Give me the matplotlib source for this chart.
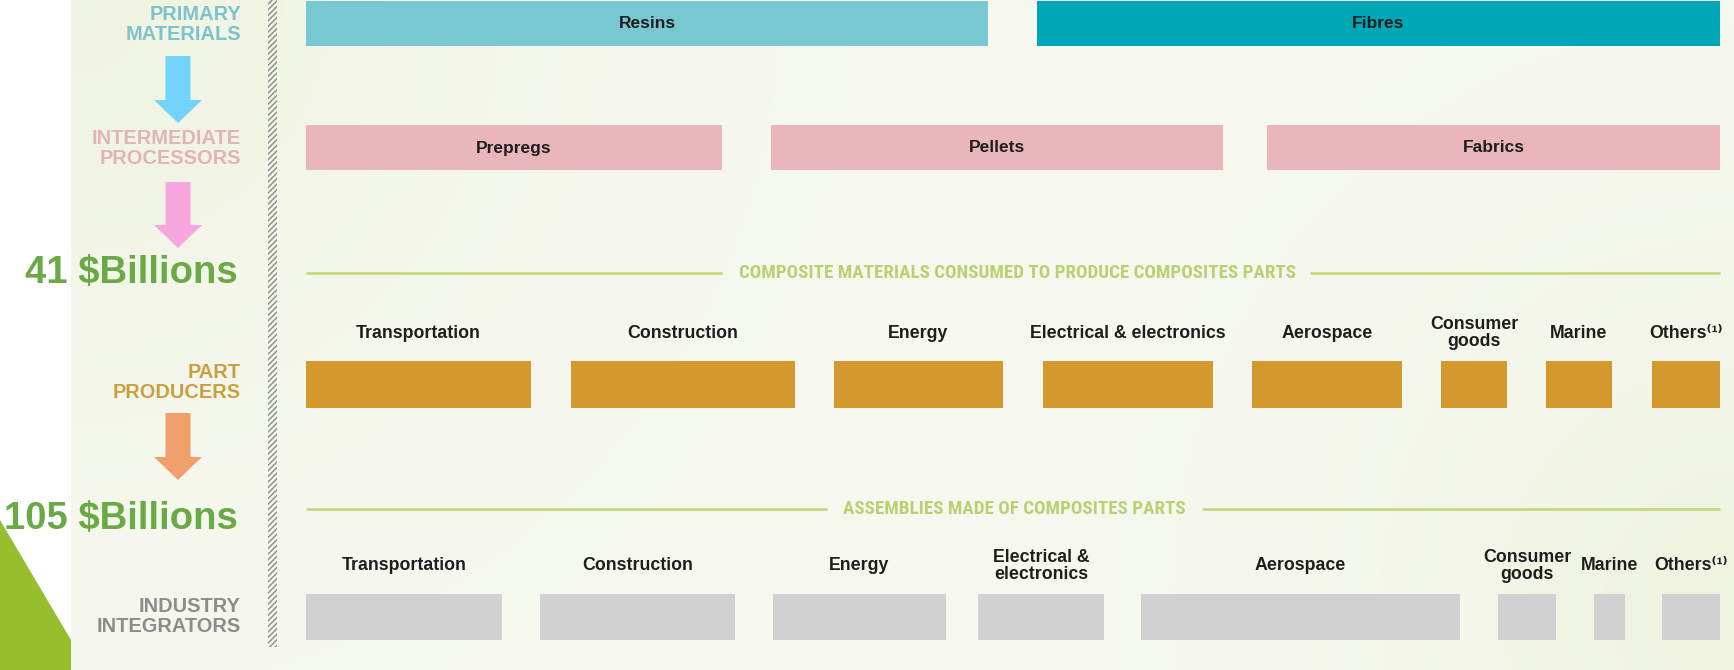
import matplotlib
matplotlib.use('Agg')
import matplotlib.pyplot as plt
import numpy as np
from matplotlib.patches import Rectangle, Polygon
from matplotlib import font_manager

# ---------------- data ----------------
stage_labels = [('PRIMARY', 'MATERIALS'), ('INTERMEDIATE', 'PROCESSORS'),
                ('PART', 'PRODUCERS'), ('INDUSTRY', 'INTEGRATORS')]
value_labels = ['41 $Billions', '105 $Billions']

primary_names = ['Resins', 'Fibres']
primary_start = [306, 1037]
primary_end = [988, 1720]

intermediate_names = ['Prepregs', 'Pellets', 'Fabrics']
intermediate_start = [306, 771, 1267]
intermediate_end = [722, 1223, 1720]

part_names = ['Transportation', 'Construction', 'Energy', 'Electrical & electronics',
              'Aerospace', 'Consumer\ngoods', 'Marine', 'Others⁽¹⁾']
part_start = [306, 571, 834, 1043, 1252, 1441, 1546, 1652]
part_end = [531, 795, 1003, 1213, 1402, 1507, 1612, 1720]

integrator_names = ['Transportation', 'Construction', 'Energy', 'Electrical &\nelectronics',
                    'Aerospace', 'Consumer\ngoods', 'Marine', 'Others⁽¹⁾']
integrator_start = [306, 540, 773, 978, 1141, 1498, 1594, 1662]
integrator_end = [502, 735, 946, 1104, 1460, 1556, 1625, 1720]

heading_1 = 'COMPOSITE MATERIALS CONSUMED TO PRODUCE COMPOSITES PARTS'
heading_2 = 'ASSEMBLIES MADE OF COMPOSITES PARTS'

# ---------------- figure ----------------
W, H = 1734, 670
fig = plt.figure(figsize=(W / 100, H / 100), dpi=100)
ax = fig.add_axes([0, 0, 1, 1])
ax.set_xlim(0, W)
ax.set_ylim(H, 0)
ax.axis('off')
fig.patch.set_facecolor('white')

names = {f.name for f in font_manager.fontManager.ttflist}
SANS = ['Liberation Sans', 'DejaVu Sans']
COND = None
for cand in ['Liberation Sans Narrow', 'DejaVu Sans Condensed', 'Roboto Condensed',
             'Open Sans Condensed']:
    if cand in names:
        COND = cand
        break

# background panel with a subtle tint (greener at top-left and bottom-right)
gx = np.linspace(0, 1, 200)
gy = np.linspace(0, 1, 80)
GX, GY = np.meshgrid(gx, gy)
tint = np.clip(0.6 * np.exp(-((GX) ** 2 / 0.05 + (GY) ** 2 / 0.3))
               + 0.7 * np.exp(-((GX - 1) ** 2 / 0.03 + (GY - 0.9) ** 2 / 0.2)), 0, 1)
base = np.array([0.965, 0.973, 0.940])
green = np.array([0.925, 0.945, 0.850])
img = base[None, None, :] * (1 - tint[..., None]) + green[None, None, :] * tint[..., None]
ax.imshow(img, extent=(71, W, H, 0), aspect='auto', zorder=0, interpolation='bilinear')
ax.set_xlim(0, W)
ax.set_ylim(H, 0)

# green triangle bottom-left
ax.add_patch(Polygon([(0, 520), (71, 640), (71, H), (0, H)], closed=True,
                     facecolor='#97be2c', edgecolor='none', zorder=1))

# hatched vertical separator
plt.rcParams['hatch.linewidth'] = 1.0
ax.add_patch(Rectangle((268, 0), 9, 647, facecolor='none', edgecolor='#8a8a8a',
                       hatch='//////', linewidth=0, zorder=2))

# stage labels (two lines each)
stage_colors = ['#7cc3cc', '#e2b3b9', '#c9a040', '#8c8c8c']
stage_y = [14.5, 138, 373, 607]
for (l1, l2), c, y in zip(stage_labels, stage_colors, stage_y):
    ax.text(241, y, l1, ha='right', va='center', family=SANS, weight='bold',
            fontsize=14.4, color=c)
    ax.text(241, y + 20, l2, ha='right', va='center', family=SANS, weight='bold',
            fontsize=14.4, color=c)

# arrows
def arrow(y0, y1, y2, color):
    cx = 178
    ax.add_patch(Polygon([(cx - 12.5, y0), (cx + 12.5, y0), (cx + 12.5, y1), (cx + 24, y1),
                          (cx, y2), (cx - 24, y1), (cx - 12.5, y1)], closed=True,
                         facecolor=color, edgecolor='none', zorder=3))

arrow(56, 100, 123, '#74d3fa')
arrow(182, 225, 248, '#f8a6de')
arrow(413, 457, 480, '#f0a06a')

# value labels
ax.text(238, 273, value_labels[0], ha='right', va='center', family=SANS, weight='bold',
        fontsize=27.5, color='#6aaa46', zorder=4)
ax.text(238, 519, value_labels[1], ha='right', va='center', family=SANS, weight='bold',
        fontsize=27.5, color='#6aaa46', zorder=4)

LBL = 12.8

# primary bars
for n, s, e, c in zip(primary_names, primary_start, primary_end, ['#77c8d1', '#00a7b6']):
    ax.add_patch(Rectangle((s, 1), e - s, 45, facecolor=c, edgecolor='none', zorder=3))
    ax.text((s + e) / 2, 23.5, n, ha='center', va='center', family=SANS, weight='bold',
            fontsize=12.5, color='#1e1e1e', zorder=4)

# intermediate bars
for n, s, e in zip(intermediate_names, intermediate_start, intermediate_end):
    ax.add_patch(Rectangle((s, 125), e - s, 45, facecolor='#e9b7bb', edgecolor='none', zorder=3))
    ax.text((s + e) / 2, 148, n, ha='center', va='center', family=SANS, weight='bold',
            fontsize=12.5, color='#1e1e1e', zorder=4)

# headings with lines
line_color = '#c3d97e'
head_color = '#b9d172'
head_font = dict(family=[COND] + SANS if COND else SANS, weight='bold',
                 fontsize=13.7 if COND else 11.8, color=head_color)

ax.plot([306, 722], [273, 273], color=line_color, lw=2, zorder=3, solid_capstyle='butt')
ax.plot([1310, 1720], [273, 273], color=line_color, lw=2, zorder=3, solid_capstyle='butt')
ax.text((739 + 1296) / 2, 273, heading_1, ha='center', va='center', zorder=4, **head_font)

ax.plot([306, 827], [509, 509], color=line_color, lw=2, zorder=3, solid_capstyle='butt')
ax.plot([1202, 1720], [509, 509], color=line_color, lw=2, zorder=3, solid_capstyle='butt')
ax.text((843 + 1186) / 2, 509, heading_2, ha='center', va='center', zorder=4, **head_font)

# part producers
for n, s, e in zip(part_names, part_start, part_end):
    ax.add_patch(Rectangle((s, 361), e - s, 47, facecolor='#d3992f', edgecolor='none', zorder=3))
    ax.text((s + e) / 2, 333, n, ha='center', va='center', family=SANS, weight='bold',
            fontsize=LBL, color='#1e1e1e', linespacing=1.05, zorder=4)

# industry integrators
for n, s, e in zip(integrator_names, integrator_start, integrator_end):
    ax.add_patch(Rectangle((s, 594), e - s, 46, facecolor='#d1d1d1', edgecolor='none', zorder=3))
    ax.text((s + e) / 2, 566, n, ha='center', va='center', family=SANS, weight='bold',
            fontsize=LBL, color='#1e1e1e', linespacing=1.05, zorder=4)

fig.savefig('out.png', dpi=100, facecolor='white')
